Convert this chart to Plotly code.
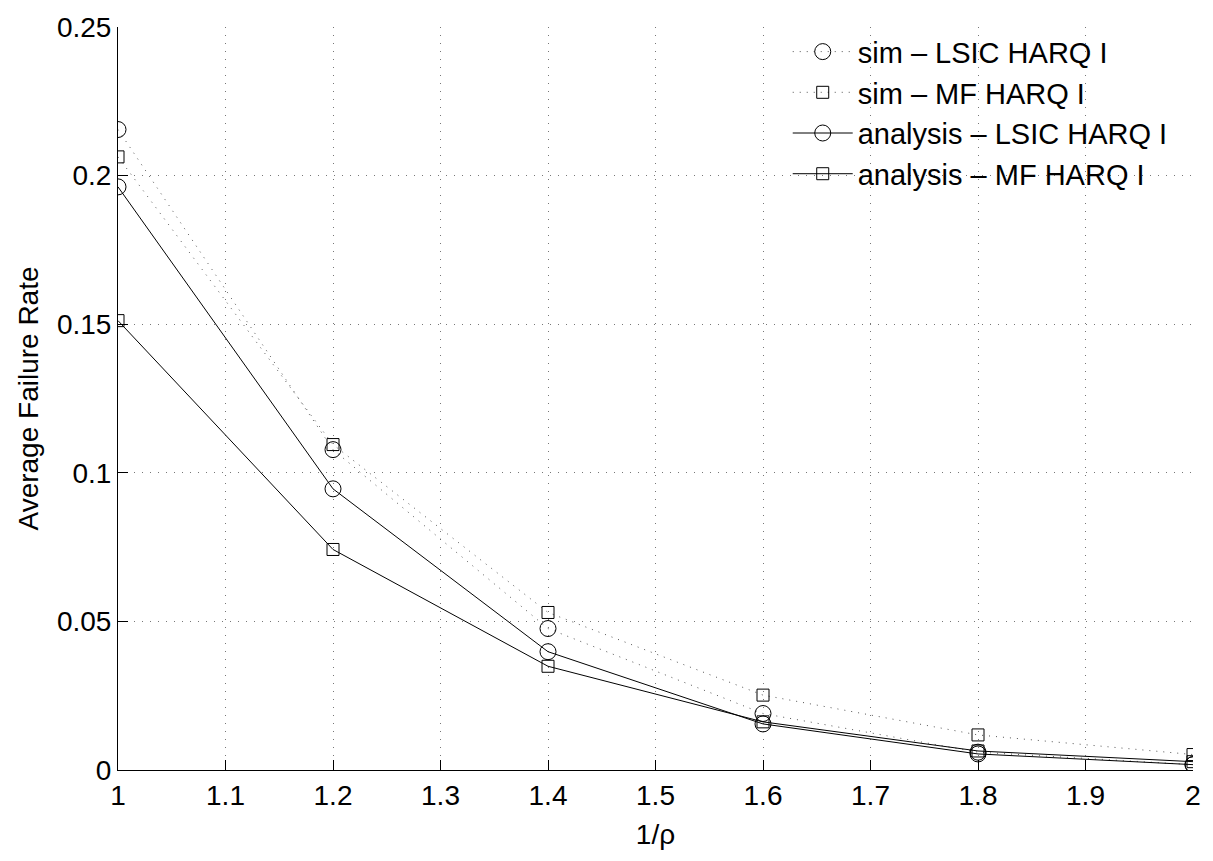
import plotly.graph_objects as go

x = [1.0, 1.2, 1.4, 1.6, 1.8, 2.0]
sim_lsic = [0.2155, 0.1078, 0.0476, 0.0190, 0.0060, 0.0018]
sim_mf = [0.2063, 0.1095, 0.0530, 0.0252, 0.0118, 0.0052]
ana_lsic = [0.1962, 0.0946, 0.0398, 0.0155, 0.0054, 0.0018]
ana_mf = [0.1512, 0.0742, 0.0349, 0.0162, 0.0064, 0.0028]

names = ["sim \u2013 LSIC HARQ I", "sim \u2013 MF HARQ I",
         "analysis \u2013 LSIC HARQ I", "analysis \u2013 MF HARQ I"]

FONT = "Liberation Sans, Arial, sans-serif"

fig = go.Figure()
series = [
    (sim_lsic, names[0], "1px,6px", "circle-open", 16, "#555"),
    (sim_mf, names[1], "1px,6px", "square-open", 12, "#555"),
    (ana_lsic, names[2], "solid", "circle-open", 16, "black"),
    (ana_mf, names[3], "solid", "square-open", 12, "black"),
]
for ys, nm, dash, sym, sz, lc in series:
    fig.add_trace(go.Scatter(
        x=x, y=ys, name=nm, mode="lines+markers",
        line=dict(color=lc, width=1, dash=dash),
        marker=dict(symbol=sym, size=sz, color="black", line=dict(width=1, color="black")),
    ))

axis_common = dict(
    showgrid=True, gridcolor="#777", griddash="1px,7px", gridwidth=1,
    showline=True, linecolor="black", linewidth=1,
    ticks="inside", ticklen=10, tickcolor="black",
    tickfont=dict(family=FONT, size=28, color="black"),
    zeroline=False,
)

fig.update_layout(
    width=1213, height=861,
    margin=dict(l=118, r=13, t=22, b=91),
    paper_bgcolor="white", plot_bgcolor="white",
    font=dict(family=FONT, color="black"),
    xaxis=dict(range=[1, 2], tickvals=[1, 1.1, 1.2, 1.3, 1.4, 1.5, 1.6, 1.7, 1.8, 1.9, 2],
               ticktext=["1", "1.1", "1.2", "1.3", "1.4", "1.5", "1.6", "1.7", "1.8", "1.9", "2"],
               title=dict(text="1/\u03c1", font=dict(family=FONT, size=28), standoff=14),
               **axis_common),
    yaxis=dict(range=[0, 0.25], tickvals=[0, 0.05, 0.1, 0.15, 0.2, 0.25],
               ticktext=["0", "0.05", "0.1", "0.15", "0.2", "0.25"],
               title=dict(text="Average Failure Rate", font=dict(family=FONT, size=28), standoff=10),
               **axis_common),
    legend=dict(x=0.623, y=1.001, xanchor="left", yanchor="top",
                bgcolor="rgba(255,255,255,0)", borderwidth=0,
                font=dict(family=FONT, size=29, color="black"),
                itemwidth=60, tracegroupgap=0),
    showlegend=True,
)

fig.write_html("out.html")
